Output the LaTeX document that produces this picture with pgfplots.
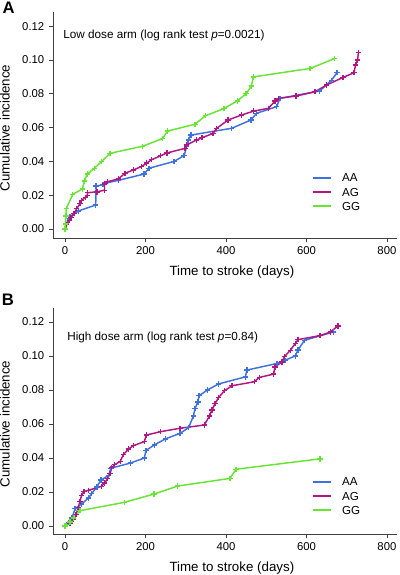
\documentclass[border=0pt]{standalone}
\usepackage{fontspec}
\setmainfont{Liberation Sans}
\usepackage{pgfplots}
\pgfplotsset{compat=1.18}
\definecolor{cAA}{RGB}{62,112,222}
\definecolor{cAG}{RGB}{176,22,132}
\definecolor{cGG}{RGB}{104,228,52}
\tikzset{leg/.style={anchor=west, inner sep=0pt, font=\fontsize{8.7pt}{10pt}\selectfont}}
\pgfplotsset{
  km/.style={
    scale only axis, width=258pt, height=169.5pt,
    xmin=-30, xmax=825,
    axis x line=bottom, axis y line=left,
    axis line style={-, black!75, line width=0.6pt},
    tick align=outside, major tick length=3pt,
    tick style={black!75, line width=0.6pt},
    xtick={0,200,400,600,800},
    ytick={0,0.02,0.04,0.06,0.08,0.10,0.12},
    yticklabel style={/pgf/number format/.cd, fixed, fixed zerofill, precision=2},
    /pgf/number format/assume math mode=true,
    ticklabel style={font=\fontsize{8.5pt}{10pt}\selectfont},
    scaled y ticks=false,
    xlabel={Time to stroke (days)},
    ylabel={Cumulative incidence},
    label style={font=\fontsize{10pt}{12pt}\selectfont},
    xlabel style={at={(axis description cs:0.52,0)}, anchor=center, yshift=-25.5pt},
    ylabel style={at={(axis description cs:-0.14,0.487)}, anchor=center},
    every axis plot/.append style={line width=1.1pt, mark=+, mark size=2pt, mark options={line width=1pt}},
  },
}
\begin{document}
\begin{tikzpicture}
\path[use as bounding box] (0,0) rectangle (300pt,-431.25pt);
\node[font=\bfseries\fontsize{12.5pt}{14pt}\selectfont, inner sep=0pt] at (6.5pt,-6pt) {A};
\node[font=\bfseries\fontsize{12.5pt}{14pt}\selectfont, inner sep=0pt] at (6pt,-225pt) {B};
\begin{axis}[km, at={(39.75pt,-9pt)}, anchor=north west,
  ymin=-0.0053, ymax=0.1284]
\addplot[cAA] coordinates {(0,0) (8,0.0063) (12,0.0073) (33,0.0107) (76,0.0142) (77,0.0217) (77,0.0254) (94,0.0262) (98,0.027) (132,0.0288) (196,0.0325) (209,0.036) (271,0.040) (296,0.0435) (302,0.0487) (306,0.0527) (313,0.0556) (414,0.0596) (462,0.0645) (476,0.0685) (526,0.0724) (534,0.0773) (633,0.0817) (662,0.088) (676,0.0925)};
\addplot[cAG] coordinates {(0,0) (4,0.0025) (11,0.005) (15,0.007) (22,0.009) (29,0.012) (37,0.015) (41,0.017) (50,0.0187) (55,0.020) (56,0.0215) (79,0.022) (98,0.023) (98,0.0266) (105,0.028) (132,0.0296) (149,0.033) (170,0.035) (190,0.037) (203,0.039) (215,0.041) (238,0.0434) (253,0.045) (298,0.0477) (302,0.0497) (327,0.0527) (340,0.054) (368,0.0566) (377,0.0596) (405,0.0645) (439,0.0675) (469,0.0698) (505,0.0714) (522,0.0757) (530,0.0773) (574,0.0787) (621,0.0812) (650,0.0852) (691,0.0897) (718,0.0925) (722,0.097) (727,0.1) (729,0.1043)};
\addplot[cGG] coordinates {(0,0) (1,0.003) (2,0.0077) (3,0.012) (19,0.0205) (43,0.0237) (48,0.0284) (55,0.0325) (73,0.036) (91,0.040) (112,0.0448) (193,0.049) (242,0.0535) (255,0.058) (323,0.062) (349,0.067) (395,0.0713) (428,0.0758) (450,0.080) (463,0.0846) (468,0.090) (609,0.095) (669,0.1008)};
\draw[cAA, line width=1.1pt] (axis cs:616,0.0302) -- (axis cs:661,0.0302);
\node[leg] at (axis cs:688,0.0302) {AA};
\draw[cAG, line width=1.1pt] (axis cs:616,0.0219) -- (axis cs:661,0.0219);
\node[leg] at (axis cs:688,0.0219) {AG};
\draw[cGG, line width=1.1pt] (axis cs:616,0.0136) -- (axis cs:661,0.0136);
\node[leg] at (axis cs:688,0.0136) {GG};
\node[anchor=west, inner sep=0pt, font=\fontsize{8.8pt}{10pt}\selectfont] at (axis cs:-5,0.1148) {Low dose arm (log rank test \textit{p}=0.0021)};
\end{axis}
\begin{axis}[km, at={(39.75pt,-231pt)}, anchor=north west,
  ymin=-0.0047, ymax=0.1282]
\addplot[cAA] coordinates {(0,0) (8,0.002) (17,0.0047) (25,0.0102) (41,0.013) (58,0.0164) (66,0.019) (79,0.023) (89,0.027) (108,0.0297) (114,0.034) (162,0.037) (197,0.040) (201,0.0444) (222,0.0477) (249,0.0512) (286,0.0545) (307,0.0578) (319,0.0647) (323,0.069) (330,0.073) (333,0.0766) (354,0.080) (381,0.0835) (448,0.0877) (452,0.0917) (527,0.0956) (547,0.0975) (572,0.100) (579,0.1035) (595,0.1092) (667,0.1141)};
\addplot[cAG] coordinates {(0,0) (12,0.0018) (20,0.004) (27,0.0066) (33,0.011) (37,0.0145) (41,0.018) (47,0.0203) (58,0.021) (90,0.0233) (98,0.0252) (106,0.028) (112,0.031) (116,0.0344) (123,0.036) (137,0.038) (145,0.042) (158,0.0453) (170,0.0473) (197,0.0496) (202,0.0535) (238,0.0555) (286,0.0575) (346,0.0594) (359,0.0647) (365,0.0682) (373,0.072) (381,0.0754) (396,0.0795) (415,0.0825) (470,0.0848) (483,0.0874) (518,0.0893) (522,0.0936) (539,0.0965) (545,0.0995) (560,0.1034) (572,0.1073) (579,0.1096) (634,0.112) (659,0.114) (678,0.1176)};
\addplot[cGG] coordinates {(0,0) (12,0.0023) (21,0.0047) (37,0.009) (147,0.0139) (221,0.0188) (280,0.0235) (410,0.028) (425,0.0334) (634,0.0395)};
\draw[cAA, line width=1.1pt] (axis cs:616,0.0259) -- (axis cs:661,0.0259);
\node[leg] at (axis cs:688,0.0259) {AA};
\draw[cAG, line width=1.1pt] (axis cs:616,0.0176) -- (axis cs:661,0.0176);
\node[leg] at (axis cs:688,0.0176) {AG};
\draw[cGG, line width=1.1pt] (axis cs:616,0.0094) -- (axis cs:661,0.0094);
\node[leg] at (axis cs:688,0.0094) {GG};
\node[anchor=west, inner sep=0pt, font=\fontsize{8.8pt}{10pt}\selectfont] at (axis cs:5,0.111) {High dose arm (log rank test \textit{p}=0.84)};
\end{axis}
\end{tikzpicture}
\end{document}
